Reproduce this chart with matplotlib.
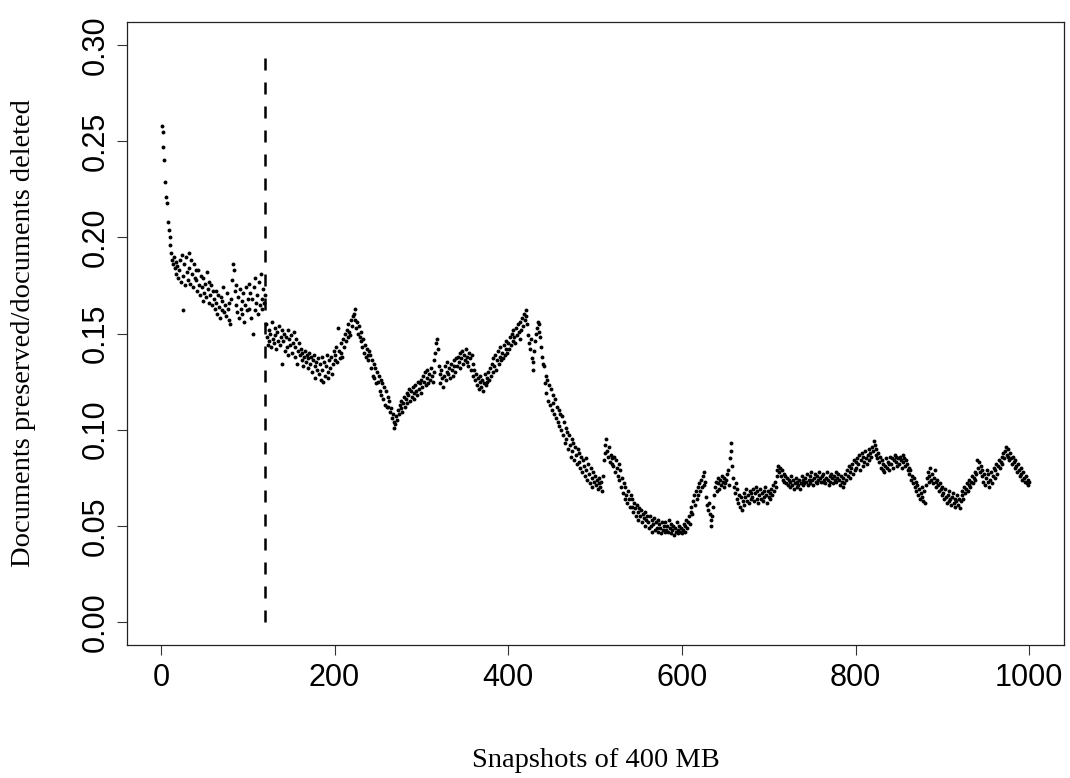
import numpy as np
import matplotlib
matplotlib.use("Agg")
import matplotlib.pyplot as plt

# ratio per snapshot in blocks of 20 snapshots
ratio_blocks = [
    [0.258,0.255,0.247,0.240,0.229,0.221,0.218,0.208,0.204,0.200,0.196,0.192,0.188,0.186,0.190,0.184,0.187,0.181,0.185,0.179],
    [0.183,0.188,0.177,0.191,0.180,0.162,0.186,0.175,0.190,0.182,0.178,0.192,0.184,0.176,0.188,0.181,0.174,0.186,0.179,0.183],
    [0.178,0.172,0.183,0.175,0.170,0.180,0.174,0.167,0.179,0.171,0.176,0.169,0.182,0.173,0.166,0.177,0.170,0.175,0.165,0.172],
    [0.168,0.163,0.172,0.166,0.160,0.170,0.164,0.158,0.169,0.162,0.167,0.174,0.161,0.165,0.159,0.171,0.163,0.157,0.166,0.155],
    [0.168,0.178,0.186,0.183,0.172,0.165,0.175,0.161,0.169,0.158,0.173,0.163,0.167,0.160,0.171,0.156,0.165,0.174,0.162,0.168],
    [0.176,0.163,0.171,0.158,0.168,0.150,0.174,0.162,0.179,0.166,0.170,0.160,0.177,0.165,0.181,0.168,0.163,0.173,0.166,0.170],
    [0.155,0.148,0.144,0.152,0.146,0.150,0.143,0.156,0.147,0.145,0.153,0.149,0.142,0.151,0.146,0.154,0.144,0.148,0.152,0.134],
    [0.146,0.150,0.141,0.148,0.143,0.152,0.139,0.147,0.144,0.149,0.140,0.145,0.151,0.138,0.143,0.147,0.134,0.141,0.145,0.139],
    [0.142,0.136,0.140,0.133,0.138,0.141,0.135,0.139,0.132,0.137,0.140,0.134,0.138,0.130,0.136,0.139,0.133,0.127,0.135,0.131],
    [0.137,0.129,0.134,0.126,0.138,0.131,0.125,0.135,0.128,0.133,0.139,0.130,0.127,0.136,0.132,0.138,0.129,0.134,0.141,0.136],
    [0.139,0.143,0.135,0.153,0.141,0.137,0.145,0.140,0.138,0.147,0.143,0.150,0.146,0.152,0.148,0.155,0.151,0.149,0.157,0.154],
    [0.159,0.160,0.163,0.157,0.153,0.156,0.150,0.154,0.148,0.151,0.146,0.143,0.147,0.140,0.144,0.138,0.142,0.139,0.136,0.141],
    [0.139,0.132,0.136,0.128,0.134,0.127,0.132,0.124,0.130,0.125,0.128,0.120,0.126,0.118,0.124,0.116,0.122,0.113,0.120,0.112],
    [0.117,0.112,0.115,0.109,0.111,0.106,0.108,0.104,0.101,0.103,0.107,0.105,0.110,0.108,0.113,0.111,0.115,0.109,0.114,0.117],
    [0.112,0.116,0.119,0.114,0.118,0.121,0.115,0.120,0.117,0.122,0.119,0.116,0.123,0.120,0.118,0.125,0.121,0.124,0.119,0.126],
    [0.122,0.128,0.125,0.130,0.123,0.127,0.131,0.124,0.129,0.126,0.132,0.128,0.125,0.130,0.136,0.140,0.145,0.147,0.142,0.133],
    [0.129,0.124,0.131,0.127,0.122,0.128,0.133,0.126,0.130,0.135,0.129,0.132,0.127,0.134,0.131,0.128,0.136,0.133,0.130,0.137],
    [0.133,0.138,0.135,0.140,0.132,0.137,0.141,0.134,0.139,0.136,0.142,0.135,0.138,0.133,0.140,0.137,0.131,0.139,0.134,0.128],
    [0.131,0.126,0.129,0.123,0.127,0.121,0.125,0.128,0.122,0.126,0.120,0.124,0.129,0.123,0.127,0.125,0.130,0.126,0.132,0.128],
    [0.134,0.130,0.137,0.133,0.139,0.131,0.136,0.141,0.134,0.138,0.143,0.136,0.140,0.137,0.144,0.139,0.142,0.146,0.140,0.145],
    [0.142,0.148,0.144,0.150,0.146,0.152,0.148,0.145,0.153,0.149,0.155,0.151,0.147,0.156,0.152,0.158,0.154,0.160,0.157,0.162],
    [0.159,0.155,0.149,0.145,0.142,0.147,0.137,0.131,0.135,0.141,0.146,0.150,0.153,0.156,0.155,0.151,0.148,0.143,0.138,0.134],
    [0.133,0.124,0.128,0.119,0.126,0.115,0.123,0.113,0.121,0.110,0.118,0.114,0.108,0.116,0.106,0.112,0.104,0.110,0.102,0.108],
    [0.100,0.107,0.097,0.104,0.093,0.101,0.095,0.099,0.090,0.097,0.092,0.086,0.095,0.089,0.093,0.084,0.091,0.087,0.082,0.090],
    [0.083,0.088,0.080,0.086,0.078,0.084,0.081,0.076,0.085,0.079,0.074,0.082,0.077,0.072,0.080,0.075,0.070,0.078,0.073,0.076],
    [0.071,0.074,0.069,0.072,0.075,0.070,0.073,0.068,0.076,0.084,0.088,0.092,0.095,0.089,0.086,0.091,0.083,0.087,0.082,0.085],
    [0.081,0.086,0.078,0.084,0.080,0.076,0.082,0.074,0.079,0.070,0.075,0.067,0.072,0.064,0.070,0.066,0.062,0.068,0.064,0.060],
    [0.066,0.060,0.064,0.057,0.062,0.059,0.055,0.061,0.057,0.053,0.059,0.055,0.058,0.052,0.056,0.054,0.050,0.057,0.053,0.055],
    [0.052,0.049,0.055,0.050,0.053,0.047,0.051,0.054,0.048,0.052,0.049,0.053,0.047,0.051,0.049,0.046,0.052,0.048,0.050,0.047],
    [0.052,0.048,0.050,0.047,0.053,0.049,0.046,0.051,0.048,0.050,0.045,0.049,0.047,0.052,0.048,0.046,0.050,0.047,0.049,0.046],
    [0.048,0.051,0.047,0.050,0.053,0.049,0.052,0.055,0.051,0.057,0.060,0.056,0.063,0.066,0.061,0.068,0.064,0.070,0.066,0.072],
    [0.068,0.074,0.070,0.076,0.071,0.078,0.073,0.065,0.061,0.058,0.062,0.056,0.053,0.050,0.055,0.060,0.066,0.070,0.073,0.068],
    [0.072,0.075,0.069,0.074,0.071,0.076,0.073,0.070,0.075,0.072,0.074,0.077,0.079,0.071,0.085,0.089,0.093,0.081,0.075,0.070],
    [0.067,0.072,0.064,0.069,0.062,0.066,0.060,0.065,0.058,0.063,0.067,0.061,0.065,0.069,0.063,0.066,0.062,0.068,0.064,0.067],
    [0.065,0.069,0.063,0.067,0.070,0.064,0.068,0.062,0.066,0.069,0.064,0.067,0.063,0.068,0.065,0.070,0.066,0.062,0.068,0.065],
    [0.067,0.064,0.069,0.066,0.071,0.068,0.073,0.070,0.076,0.079,0.081,0.078,0.080,0.076,0.079,0.074,0.077,0.073,0.076,0.072],
    [0.075,0.071,0.074,0.070,0.073,0.076,0.071,0.074,0.069,0.072,0.075,0.070,0.073,0.071,0.074,0.069,0.072,0.076,0.071,0.074],
    [0.072,0.075,0.073,0.077,0.071,0.074,0.076,0.072,0.078,0.074,0.071,0.075,0.077,0.073,0.076,0.072,0.074,0.078,0.075,0.073],
    [0.076,0.073,0.077,0.074,0.072,0.075,0.078,0.074,0.071,0.076,0.073,0.077,0.075,0.072,0.076,0.074,0.078,0.073,0.075,0.077],
    [0.074,0.071,0.076,0.073,0.070,0.075,0.072,0.077,0.074,0.079,0.076,0.081,0.078,0.075,0.080,0.082,0.077,0.084,0.079,0.083],
    [0.080,0.085,0.082,0.087,0.079,0.084,0.088,0.081,0.086,0.083,0.089,0.085,0.082,0.087,0.090,0.084,0.088,0.086,0.091,0.089],
    [0.094,0.092,0.087,0.090,0.085,0.088,0.083,0.086,0.080,0.084,0.079,0.082,0.078,0.081,0.085,0.080,0.083,0.079,0.082,0.086],
    [0.082,0.085,0.080,0.084,0.087,0.083,0.086,0.081,0.085,0.082,0.086,0.084,0.080,0.083,0.087,0.085,0.081,0.084,0.082,0.079],
    [0.080,0.077,0.079,0.074,0.076,0.072,0.075,0.070,0.073,0.068,0.071,0.066,0.069,0.064,0.067,0.070,0.065,0.063,0.068,0.062],
    [0.071,0.075,0.078,0.073,0.076,0.080,0.074,0.077,0.072,0.075,0.079,0.073,0.070,0.074,0.071,0.068,0.072,0.069,0.066,0.070],
    [0.067,0.064,0.069,0.065,0.062,0.066,0.063,0.068,0.064,0.061,0.065,0.067,0.062,0.064,0.060,0.063,0.066,0.061,0.064,0.059],
    [0.063,0.066,0.068,0.064,0.070,0.067,0.069,0.072,0.068,0.071,0.074,0.070,0.073,0.076,0.072,0.075,0.078,0.074,0.077,0.084],
    [0.080,0.083,0.078,0.081,0.076,0.079,0.073,0.077,0.071,0.075,0.079,0.073,0.077,0.070,0.074,0.078,0.072,0.076,0.080,0.075],
    [0.079,0.082,0.077,0.081,0.084,0.080,0.083,0.086,0.082,0.088,0.085,0.089,0.091,0.087,0.090,0.086,0.084,0.088,0.085,0.082],
    [0.086,0.083,0.080,0.084,0.081,0.078,0.082,0.079,0.076,0.080,0.077,0.074,0.078,0.075,0.073,0.076,0.072,0.074,0.071,0.073],
]
ratio = np.concatenate(ratio_blocks)
snapshot = np.arange(1, len(ratio) + 1)

cutoff = 120
x_ticks = [0, 200, 400, 600, 800, 1000]
y_ticks = [0.00, 0.05, 0.10, 0.15, 0.20, 0.25, 0.30]

fig = plt.figure(figsize=(10.7, 7.78), dpi=100)
ax = fig.add_axes([127/1070, 1 - 645/778, (1064-127)/1070, (645-22)/778])

ax.plot(snapshot, ratio, 'o', color='black', markersize=2.8, markeredgewidth=0)
ax.plot([cutoff, cutoff], [0, 0.295], color='black', linewidth=1.8,
        linestyle=(0, (4.8, 4.8)))

# R pads the data range by 4% on each side
ax.set_xlim(1 - 0.04*999, 1000 + 0.04*999)
ax.set_ylim(-0.012, 0.312)

tick_font = {'family': 'Liberation Sans', 'size': 22}
ax.set_xticks(x_ticks)
ax.set_xticklabels([str(t) for t in x_ticks], fontdict=tick_font)
ax.set_yticks(y_ticks)
ax.set_yticklabels(['%.2f' % t for t in y_ticks], fontdict=tick_font,
                   rotation=90, va='center')

ax.tick_params(axis='both', direction='out', length=7, width=0.8, color='#333333')
ax.tick_params(axis='x', pad=6)
ax.tick_params(axis='y', pad=5)

for s in ax.spines.values():
    s.set_linewidth(0.9)
    s.set_color('#222222')

label_font = {'family': 'Liberation Serif', 'size': 20.5}
ax.set_xlabel('Snapshots of 400 MB', fontdict=label_font, va='center')
ax.set_ylabel('Documents preserved/documents deleted', fontdict=label_font, va='center')
ax.xaxis.set_label_coords(0.5, -0.185)
ax.yaxis.set_label_coords(-0.110, 0.5)

fig.savefig('out.png', dpi=100)
